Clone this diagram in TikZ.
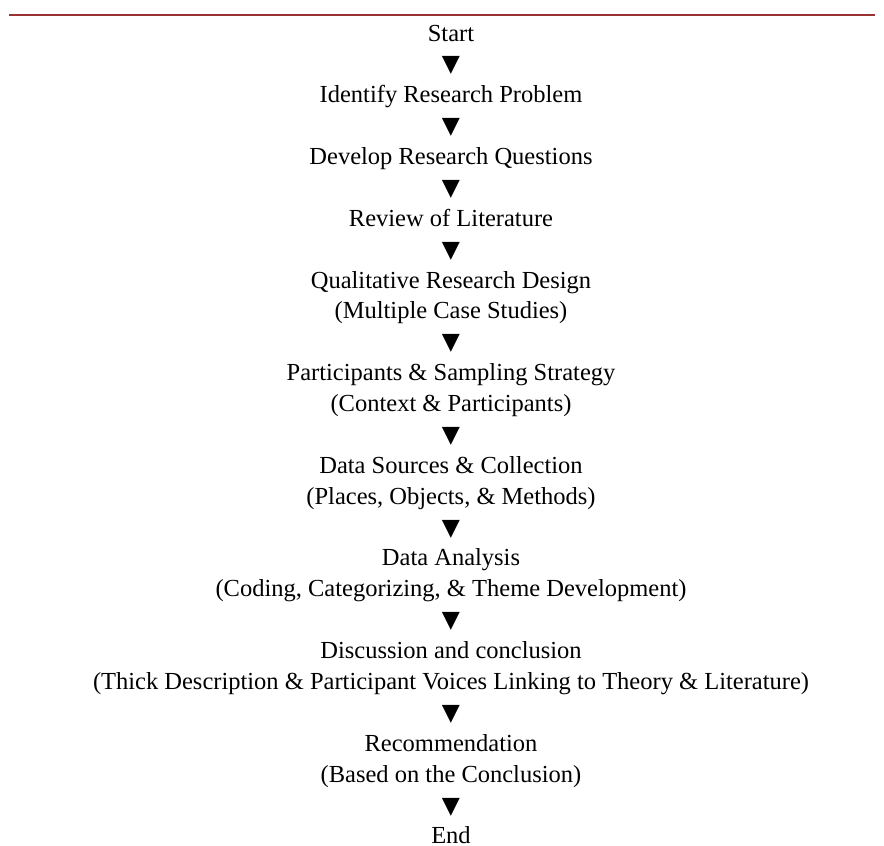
\documentclass[tikz,border=0pt]{standalone}
\usepackage{fontspec}
\setmainfont{Liberation Serif}
\newfontfamily\symfont{DejaVu Sans}
\usepackage{tikz}
\usetikzlibrary{positioning}
\definecolor{rulered}{HTML}{993333}
\tikzstyle{stepbox} = [inner sep=0pt, outer sep=0pt, align=center, font=\fontsize{24.5}{30.88}\selectfont]
\tikzstyle{downmark} = [inner sep=0pt, outer sep=0pt, font=\symfont\fontsize{23.5}{30.88}\selectfont]
\tikzstyle{toprule} = [line width=2pt, color=rulered]
\begin{document}
\begin{tikzpicture}[x=1pt, y=1pt]
    % Research procedure flow
    \useasboundingbox (0,0) rectangle (884,-846);
    \draw[toprule] (9,-15) -- (875,-15);

    \node[stepbox, anchor=base] (start) at (451,-41) {Start\strut};
    \node[downmark, below=0pt of start] (down1) {▼\strut};
    \node[stepbox, below=0pt of down1] (problem) {Identify Research Problem\strut};
    \node[downmark, below=0pt of problem] (down2) {▼\strut};
    \node[stepbox, below=0pt of down2] (questions) {Develop Research Questions\strut};
    \node[downmark, below=0pt of questions] (down3) {▼\strut};
    \node[stepbox, below=0pt of down3] (literature) {Review of Literature\strut};
    \node[downmark, below=0pt of literature] (down4) {▼\strut};
    \node[stepbox, below=0pt of down4] (design) {Qualitative Research Design\strut\\(Multiple Case Studies)\strut};
    \node[downmark, below=0pt of design] (down5) {▼\strut};
    \node[stepbox, below=0pt of down5] (sampling) {Participants \& Sampling Strategy\strut\\(Context \& Participants)\strut};
    \node[downmark, below=0pt of sampling] (down6) {▼\strut};
    \node[stepbox, below=0pt of down6] (collection) {Data Sources \& Collection\strut\\(Places, Objects, \& Methods)\strut};
    \node[downmark, below=0pt of collection] (down7) {▼\strut};
    \node[stepbox, below=0pt of down7] (analysis) {Data Analysis\strut\\(Coding, Categorizing, \& Theme Development)\strut};
    \node[downmark, below=0pt of analysis] (down8) {▼\strut};
    \node[stepbox, below=0pt of down8] (discussion) {Discussion and conclusion\strut\\(Thick Description \& Participant Voices Linking to Theory \& Literature)\strut};
    \node[downmark, below=0pt of discussion] (down9) {▼\strut};
    \node[stepbox, below=0pt of down9] (recommendation) {Recommendation\strut\\(Based on the Conclusion)\strut};
    \node[downmark, below=0pt of recommendation] (down10) {▼\strut};
    \node[stepbox, text height=21.62pt, text depth=0pt, below=0pt of down10] (stop) {End};
\end{tikzpicture}
\end{document}
